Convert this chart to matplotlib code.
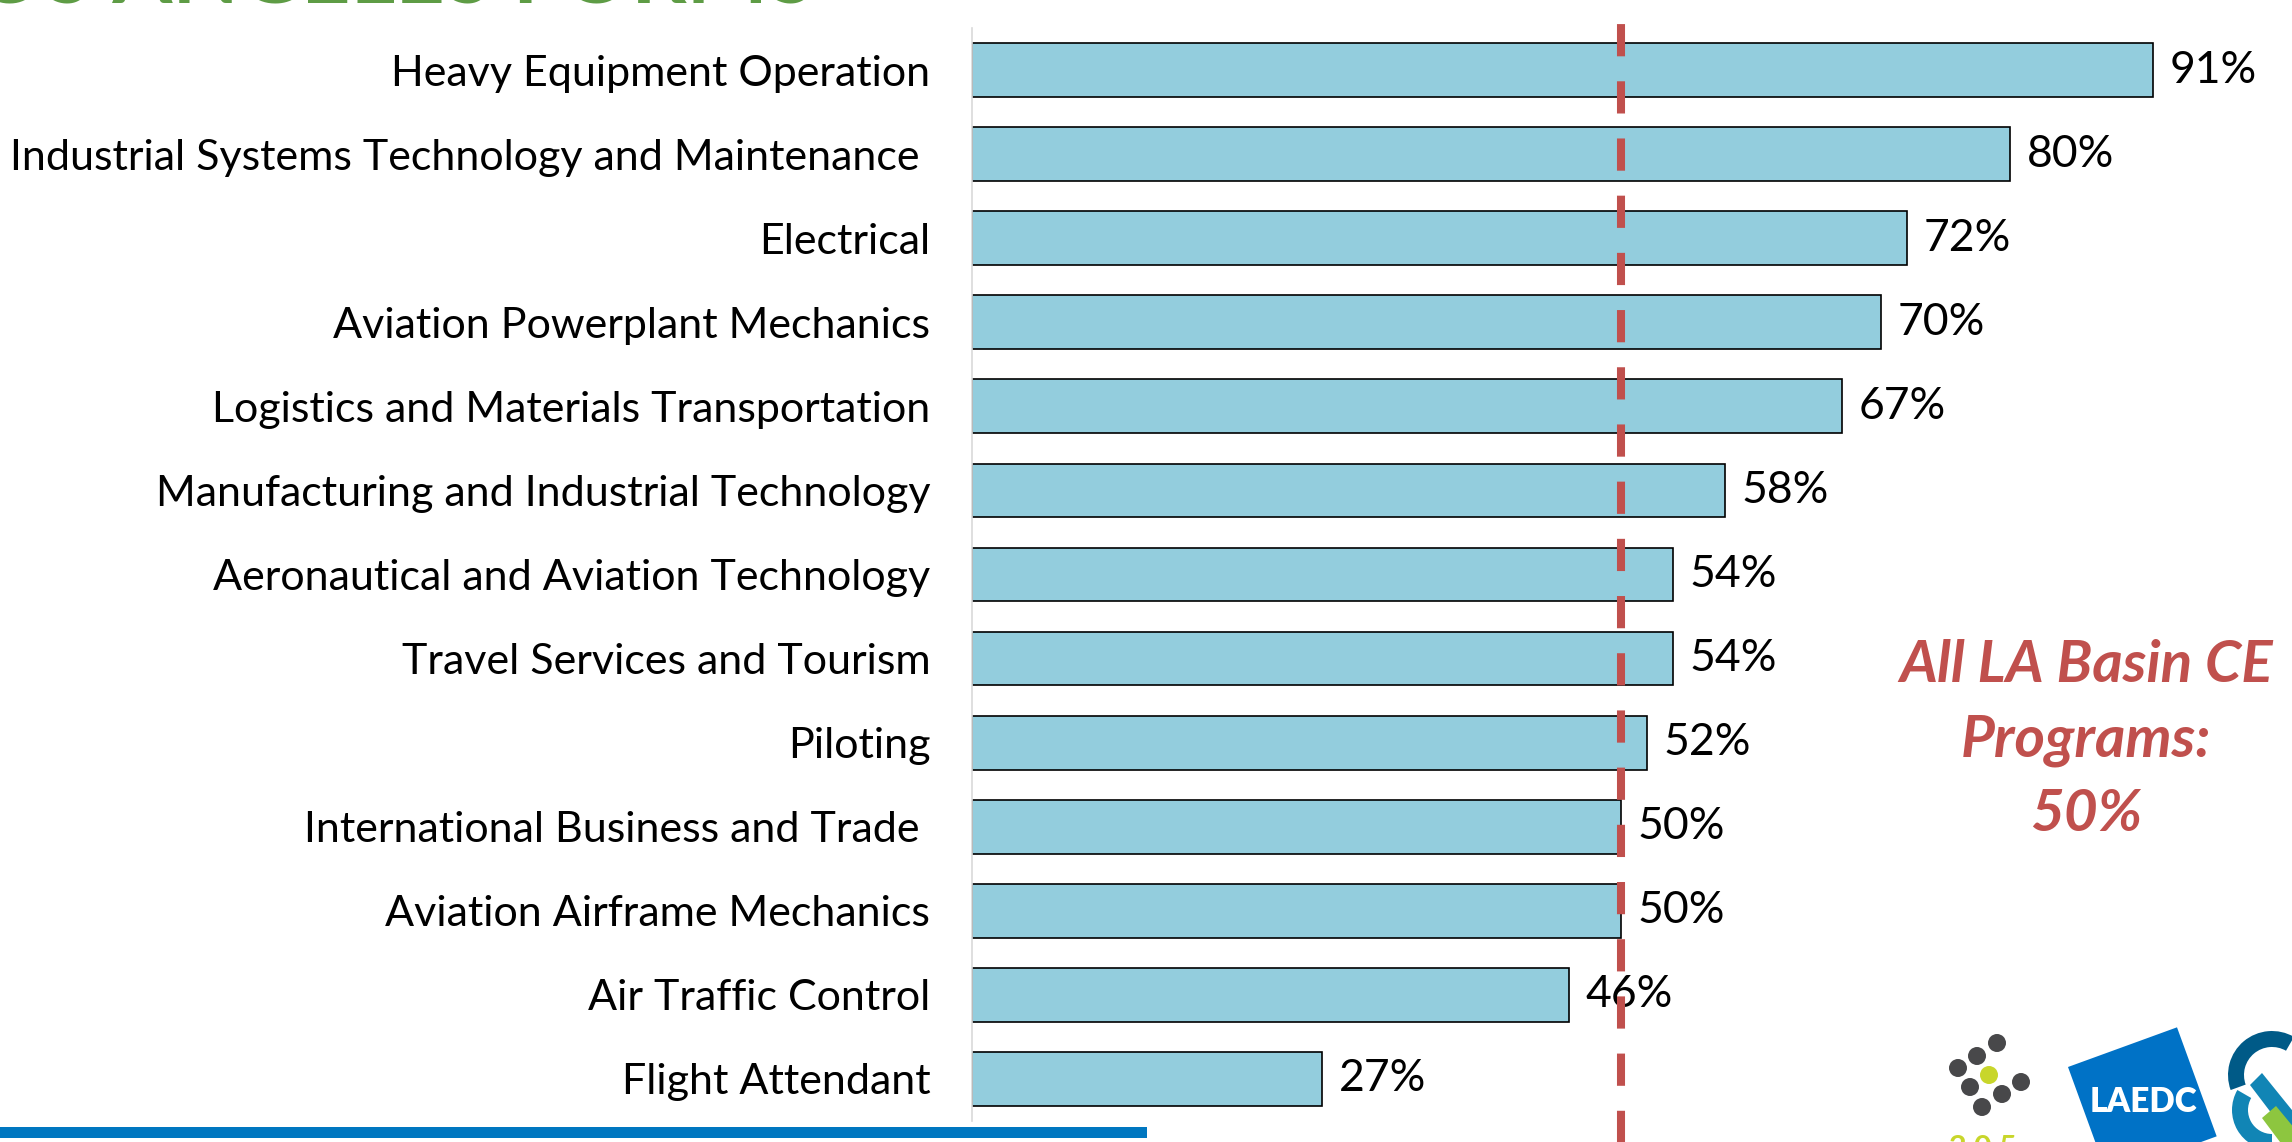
import matplotlib
matplotlib.use("Agg")
import matplotlib.pyplot as plt
from matplotlib.patches import Rectangle, Circle, Polygon, Wedge
from matplotlib.transforms import IdentityTransform
import numpy as np

categories = [
    "Heavy Equipment Operation",
    "Industrial Systems Technology and Maintenance ",
    "Electrical",
    "Aviation Powerplant Mechanics",
    "Logistics and Materials Transportation",
    "Manufacturing and Industrial Technology",
    "Aeronautical and Aviation Technology",
    "Travel Services and Tourism",
    "Piloting",
    "International Business and Trade ",
    "Aviation Airframe Mechanics",
    "Air Traffic Control",
    "Flight Attendant",
]
values = [91, 80, 72, 70, 67, 58, 54, 54, 52, 50, 50, 46, 27]
benchmark = 50
benchmark_text = "All LA Basin CE\nPrograms:\n50%"
title_text = "LOS ANGELES FORMS"

W, H = 2292, 1142
DPI = 100
plt.rcParams['font.family'] = ['Lato', 'DejaVu Sans']

fig = plt.figure(figsize=(W / DPI, H / DPI), dpi=DPI)

def fx(px):
    return px / W

def fy(py):
    return 1 - py / H

ax_left, ax_right, ax_top, ax_bot = 972, 2270, 28, 1121
ax = fig.add_axes([fx(ax_left), fy(ax_bot), fx(ax_right - ax_left), (ax_bot - ax_top) / H])

bar_color = "#93CDDD"
red = "#C0504D"
y = np.arange(len(categories))
fracs = [v / 100 for v in values]
ax.barh(y, fracs, height=0.64, color=bar_color, edgecolor="black", linewidth=1.2, zorder=2)
ax.set_xlim(0, 1)
ax.set_ylim(len(categories) - 0.5, -0.5)
ax.set_yticks(y)
ax.set_yticklabels(categories, fontsize=31)
ax.tick_params(axis='y', length=0, pad=30)
ax.set_xticks([])
for s in ["top", "right", "bottom"]:
    ax.spines[s].set_visible(False)
ax.spines["left"].set_color("#D9D9D9")
ax.spines["left"].set_linewidth(1.2)

for yi, f, v in zip(y, fracs, values):
    ax.text(f + 0.013, yi, f"{v}%", va="center", ha="left", fontsize=32, zorder=3, clip_on=False)

ax.axvline(benchmark / 100, ymin=-0.02, ymax=1.02, color=red, linewidth=5.8,
           linestyle=(0, (4, 3.1)), zorder=5, clip_on=False)

fig.text(fx(2086), fy(740), benchmark_text, ha="center", va="center", color=red,
         fontsize=42, fontweight="bold", fontstyle="italic", linespacing=1.5)

# cut-off title at top
fig.text(fx(-70), fy(3), title_text, ha="left", va="baseline", color="#5E9C45",
         fontsize=62, fontweight="bold")

# blue footer line
fig.add_artist(Rectangle((0, fy(1138)), fx(1147), (1138 - 1127) / H,
                         transform=fig.transFigure, color="#0077C0", lw=0))

# logos (approximate)
def circ_px(px, py, r, c):
    fig.add_artist(Circle((px, H - py), r, transform=IdentityTransform(), color=c, lw=0))

for (px, py) in [(1997, 1043), (1977, 1056), (1958, 1068), (2021, 1082),
                 (1970, 1087), (2002, 1094), (1982, 1107)]:
    circ_px(px, py, 9, "#48484A")
circ_px(1989, 1075, 9, "#C8D62B")
fig.text(fx(1983), fy(1134), "2 0 5", ha="center", va="top", color="#C8D62B",
         fontsize=22, fontweight="bold")

# LAEDC rotated square
ang = np.deg2rad(20)
p0 = np.array([2068, H - 1067])
u = np.array([np.cos(ang), np.sin(ang)]) * 116
v = np.array([np.sin(ang), -np.cos(ang)]) * 116
sq = np.array([p0, p0 + u, p0 + u + v, p0 + v])
fig.add_artist(Polygon(sq, closed=True, transform=IdentityTransform(), color="#0072C6", lw=0))
fig.text(fx(2143), fy(1102), "LAEDC", ha="center", va="center", color="white",
         fontsize=24, fontweight="heavy")

# partial right logo
fig.add_artist(Wedge((2272, H - 1075), 44, 60, 200, width=16,
                     transform=IdentityTransform(), color="#005A87", lw=0))
fig.add_artist(Wedge((2272, H - 1110), 40, 150, 270, width=16,
                     transform=IdentityTransform(), color="#1185B5", lw=0))
band = np.array([[2250, H - 1085], [2262, H - 1073], [2300, H - 1120], [2288, H - 1135]])
fig.add_artist(Polygon(band, closed=True, transform=IdentityTransform(), color="#1185B5", lw=0))
band2 = np.array([[2262, H - 1118], [2276, H - 1106], [2300, H - 1135], [2292, H - 1142], [2280, H - 1142]])
fig.add_artist(Polygon(band2, closed=True, transform=IdentityTransform(), color="#8DC63F", lw=0))

fig.savefig("out.png", dpi=DPI)
